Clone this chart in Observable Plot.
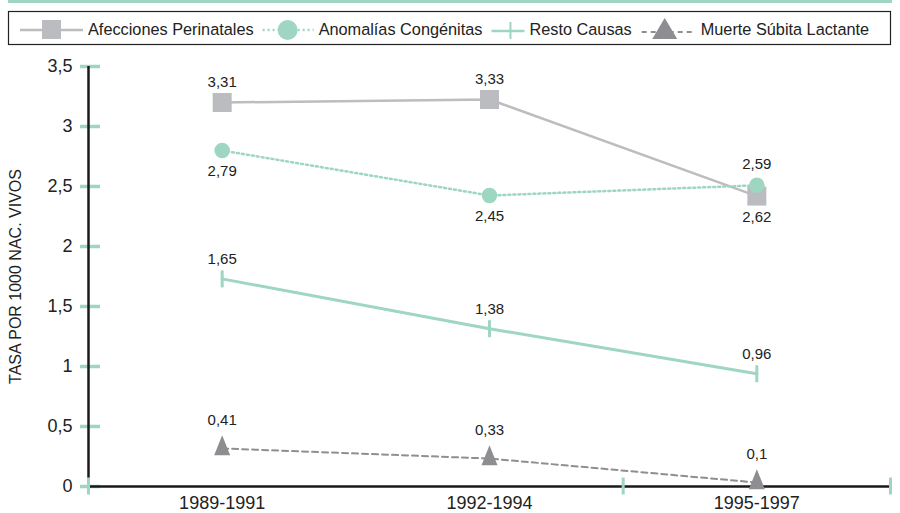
<!DOCTYPE html>
<html><head><meta charset="utf-8">
<script src="https://cdn.jsdelivr.net/npm/d3@7"></script>
<script src="https://cdn.jsdelivr.net/npm/@observablehq/plot@0.6"></script>
<style>
body{margin:0;background:#fff;font-family:"Liberation Sans",Arial,sans-serif;color:#222;}
#wrap{position:relative;width:900px;height:513px;overflow:hidden;background:#fff;}
#topbar{position:absolute;left:8px;top:0;width:884px;height:3px;background:#9ed6c2;}
#legend{position:absolute;left:0;top:0;}
#chart{position:absolute;left:0;top:50px;}
</style></head><body>
<div id="wrap"><div id="topbar"></div><svg id="legend" width="900" height="50"></svg><div id="chart"></div></div>
<script>
// ---- data ----
const categories = ["1989-1991", "1992-1994", "1995-1997"];
const seriesNames = ["Afecciones Perinatales", "Anomalías Congénitas", "Resto Causas", "Muerte Súbita Lactante"];
// plotted positions
const afeccionesValues = [3.20, 3.225, 2.42];
const anomaliasValues = [2.80, 2.425, 2.51];
const restoValues = [1.73, 1.315, 0.94];
const muerteValues = [0.317, 0.233, 0.033];
// data labels as printed
const afeccionesLabels = ["3,31", "3,33", "2,62"];
const anomaliasLabels = ["2,79", "2,45", "2,59"];
const restoLabels = ["1,65", "1,38", "0,96"];
const muerteLabels = ["0,41", "0,33", "0,1"];
const yTicks = [0, 0.5, 1, 1.5, 2, 2.5, 3, 3.5];
const xBoundaryTicks = [0, 2, 3];
const yLabel = "TASA POR 1000 NAC. VIVOS";

// ---- styles ----
const TEAL = "#9ed6c2";
const GREY_LINE = "#bdbdbd";
const GREY_SQ = "#bbbcc0";
const DARK_GREY = "#8e8e92";
const DASH_GREY = "#8f8f8f";
const TEXT = "#222";
const FONT = "'Liberation Sans', Arial, sans-serif";

function rows(values, labels) {
  return values.map((v, i) => ({x: i + 0.5, cat: categories[i], value: v, label: labels[i]}));
}
const af = rows(afeccionesValues, afeccionesLabels);
const an = rows(anomaliasValues, anomaliasLabels);
const re = rows(restoValues, restoLabels);
const mu = rows(muerteValues, muerteLabels);

// custom symbols: sqrt(size) = main dimension
const tallTriangle = {draw(ctx, size) {
  const h = Math.sqrt(size), w = h * 0.8;
  ctx.moveTo(0, -2 * h / 3); ctx.lineTo(w / 2, h / 3); ctx.lineTo(-w / 2, h / 3); ctx.closePath();
}};
const vTick = {draw(ctx, size) {
  const h = Math.sqrt(size);
  ctx.moveTo(0, -h / 2); ctx.lineTo(0, h / 2);
}};
const rFor = (dim) => Math.sqrt(dim * dim / Math.PI);

function labelMarks(data, placement, above, below) {
  return [
    Plot.text(data.filter((d, i) => placement[i] === "above"), {x: "x", y: "value", text: "label", dy: above, fontSize: 15, fill: TEXT}),
    Plot.text(data.filter((d, i) => placement[i] === "below"), {x: "x", y: "value", text: "label", dy: below, fontSize: 15, fill: TEXT})
  ];
}

const plot = Plot.plot({
  width: 900, height: 463,
  marginTop: 16, marginBottom: 27, marginLeft: 88, marginRight: 10,
  x: {type: "linear", domain: [0, categories.length]},
  y: {domain: [0, 3.5]},
  style: {fontFamily: FONT, fontSize: "18px", color: TEXT, background: "transparent", overflow: "visible"},
  marks: [
    Plot.axisY(yTicks, {tickSize: 20, dx: 12, tickFormat: () => "", stroke: TEAL, strokeWidth: 3.5, label: null}),
    Plot.axisY(yTicks, {tickSize: 0, tickPadding: 16, tickFormat: d => String(d).replace(".", ","), label: null, fill: TEXT}),
    Plot.axisX(categories.map((c, i) => i + 0.5), {tickSize: 0, tickPadding: 10, tickFormat: d => categories[Math.floor(d)], label: null, fill: TEXT}),
    Plot.ruleX([0], {stroke: "#1a1a1a", strokeWidth: 2.5}),
    Plot.ruleY([0], {stroke: "#1a1a1a", strokeWidth: 2.5}),
    Plot.axisX(xBoundaryTicks, {tickSize: 17, dy: -8.5, tickFormat: () => "", stroke: TEAL, strokeWidth: 3, label: null}),
    Plot.text([yLabel], {frameAnchor: "left", textAnchor: "middle", dx: -73, rotate: -90, fontSize: 16, fill: TEXT}),

    Plot.line(af, {x: "x", y: "value", stroke: GREY_LINE, strokeWidth: 2.5}),
    Plot.line(an, {x: "x", y: "value", stroke: TEAL, strokeWidth: 2.5, strokeDasharray: "2,3"}),
    Plot.line(re, {x: "x", y: "value", stroke: TEAL, strokeWidth: 3}),
    Plot.line(mu, {x: "x", y: "value", stroke: DASH_GREY, strokeWidth: 2, strokeDasharray: "6,4"}),

    Plot.dot(af, {x: "x", y: "value", symbol: "square", r: rFor(19), fill: GREY_SQ, stroke: "none"}),
    Plot.dot(an, {x: "x", y: "value", symbol: "circle", r: 7.75, fill: TEAL, stroke: "none"}),
    Plot.dot(re, {x: "x", y: "value", symbol: vTick, r: rFor(17), fill: "none", stroke: TEAL, strokeWidth: 3}),
    Plot.dot(mu, {x: "x", y: "value", symbol: tallTriangle, r: rFor(20), fill: DARK_GREY, stroke: "none"}),

    ...labelMarks(af, ["above", "above", "below"], -20, 21),
    ...labelMarks(an, ["below", "below", "above"], -21, 21),
    ...labelMarks(re, ["above", "above", "above"], -20, 20),
    ...labelMarks(mu, ["above", "above", "above"], -28, 20)
  ]
});
document.getElementById("chart").appendChild(plot);

// ---- legend ----
const lg = d3.select("#legend");
lg.append("rect").attr("x", 8.5).attr("y", 11.5).attr("width", 882).attr("height", 33)
  .attr("fill", "none").attr("stroke", "#222").attr("stroke-width", 1.2);
const cy = 29;
const symbolDefs = [
  {w: 63, draw(g, x) {
    g.append("line").attr("x1", x).attr("x2", x + 63).attr("y1", cy + 1).attr("y2", cy + 1).attr("stroke", GREY_LINE).attr("stroke-width", 2.5);
    g.append("rect").attr("x", x + 22).attr("y", cy - 9).attr("width", 19).attr("height", 19).attr("fill", GREY_SQ);
  }},
  {w: 51, draw(g, x) {
    g.append("line").attr("x1", x).attr("x2", x + 51).attr("y1", cy + 1).attr("y2", cy + 1).attr("stroke", TEAL).attr("stroke-width", 2.5).attr("stroke-dasharray", "2,3");
    g.append("circle").attr("cx", x + 25).attr("cy", cy + 1).attr("r", 10).attr("fill", TEAL);
  }},
  {w: 33, draw(g, x) {
    g.append("line").attr("x1", x).attr("x2", x + 33).attr("y1", cy + 2).attr("y2", cy + 2).attr("stroke", TEAL).attr("stroke-width", 2.5);
    g.append("line").attr("x1", x + 19).attr("x2", x + 19).attr("y1", cy - 7).attr("y2", cy + 10).attr("stroke", TEAL).attr("stroke-width", 2);
  }},
  {w: 54, draw(g, x) {
    g.append("line").attr("x1", x).attr("x2", x + 54).attr("y1", cy + 3).attr("y2", cy + 3).attr("stroke", DASH_GREY).attr("stroke-width", 2).attr("stroke-dasharray", "5,4");
    g.append("path").attr("d", `M${x + 23},${cy - 11}L${x + 35.5},${cy + 10}L${x + 10.5},${cy + 10}Z`).attr("fill", DARK_GREY);
  }}
];
let lx = 20;
const gaps = [9, 9, 10];
seriesNames.forEach((name, i) => {
  const g = lg.append("g");
  symbolDefs[i].draw(g, lx);
  lx += symbolDefs[i].w + 5;
  const t = g.append("text").attr("x", lx).attr("y", cy).attr("dy", "0.35em")
    .attr("font-family", FONT).attr("font-size", 16.3).attr("fill", TEXT).text(name);
  lx += t.node().getComputedTextLength() + (gaps[i] || 0);
});
</script>
</body></html>
